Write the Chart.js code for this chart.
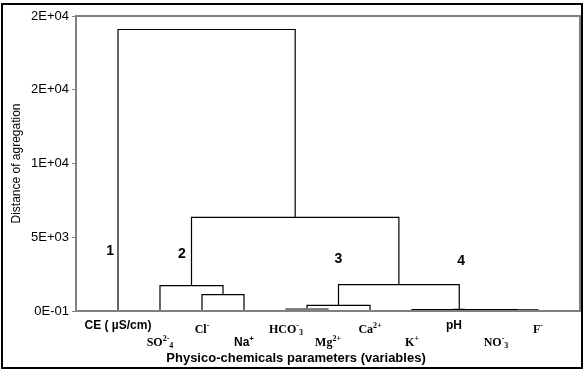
<!DOCTYPE html>
<html><head><meta charset="utf-8">
<script src="https://cdn.jsdelivr.net/npm/chart.js@4/dist/chart.umd.min.js"></script>
<style>html,body{margin:0;padding:0;background:#fff}#wrap{width:584px;height:370px}</style>
</head><body><div id="wrap"><canvas id="c" width="584" height="370"></canvas></div>
<script>
// ---- data ----
const leafNames = ['CE ( µS/cm)', 'SO', 'Cl', 'Na', 'HCO', 'Mg', 'Ca', 'K', 'pH', 'NO', 'F'];
const leafSup   = ['', '2-', '-', '+', '-', '2+', '2+', '+', '', '-', '-'];
const leafSub   = ['', '4', '', '', '3', '', '', '', '', '3', ''];
// merges: [childA, childB, distance]; ids 0..10 are leaves, 11+ are merges in order
const merges = [
  [4, 5, 150],
  [9, 10, 70],
  [7, 12, 95],
  [8, 13, 120],
  [11, 6, 386],
  [2, 3, 1105],
  [1, 16, 1715],
  [15, 14, 1783],
  [17, 18, 6353],
  [0, 19, 19085]
];
const yTickValues = [0, 5000, 10000, 15000, 20000];
const yTickLabels = ['0E-01', '5E+03', '1E+04', '2E+04', '2E+04'];
const clusterNames = ['1', '2', '3', '4'];
const clusterX = [0.81, 2.52, 6.25, 9.17];
const clusterY = [4030, 3830, 3520, 3350];
const yTitle = 'Distance of agregation';
const xTitle = 'Physico-chemicals parameters (variables)';

// ---- styles ----
const labelRow   = [0, 1, 0, 1, 0, 1, 0, 1, 0, 1, 0];
const labelSerif = [false, true, true, false, true, true, true, true, false, true, true];
const SANS = '"Liberation Sans", Arial, sans-serif';
const SERIF = '"Liberation Serif", "Times New Roman", serif';

// ---- build dendrogram line datasets ----
const nodeX = leafNames.map((_, i) => i + 1);
const nodeH = leafNames.map(() => 0);
const datasets = [];
merges.forEach(([a, b, h], k) => {
  const grey = (k === 0);
  datasets.push({
    data: [{x: nodeX[a], y: nodeH[a]}, {x: nodeX[a], y: h}, {x: nodeX[b], y: h}, {x: nodeX[b], y: nodeH[b]}],
    showLine: true, pointRadius: 0, borderWidth: 1.2, tension: 0,
    borderColor: grey ? '#6a6a6a' : '#000',
    backgroundColor: grey ? '#8a8a8a' : 'transparent',
    fill: grey ? 'origin' : false
  });
  nodeX.push((nodeX[a] + nodeX[b]) / 2);
  nodeH.push(h);
});

const decor = {
  id: 'decor',
  beforeDraw(chart) {
    const ctx = chart.ctx;
    ctx.save(); ctx.fillStyle = '#fff'; ctx.fillRect(0, 0, chart.width, chart.height); ctx.restore();
  },
  afterDraw(chart) {
    const ctx = chart.ctx, ca = chart.chartArea;
    const xs = chart.scales.x, ys = chart.scales.y;
    ctx.save();
    // plot frame
    ctx.strokeStyle = '#808080'; ctx.lineWidth = 2;
    ctx.strokeRect(ca.left, ca.top, ca.right - ca.left, ca.bottom - ca.top);
    // outer frame
    ctx.strokeStyle = '#000'; ctx.lineWidth = 2;
    ctx.strokeRect(2, 4, 580, 364);
    // leaf labels
    ctx.fillStyle = '#000'; ctx.textBaseline = 'alphabetic'; ctx.textAlign = 'left';
    leafNames.forEach((name, i) => {
      const serif = labelSerif[i];
      const fMain = serif ? 'bold 12px ' + SERIF : 'bold 12px ' + SANS;
      const fSmall = serif ? 'bold 8px ' + SERIF : 'bold 8px ' + SANS;
      const segs = [[name, fMain, 0]];
      if (leafSup[i]) segs.push([leafSup[i], fSmall, -5]);
      if (leafSub[i]) segs.push([leafSub[i], fSmall, 2]);
      let w = 0;
      segs.forEach(s => { ctx.font = s[1]; w += ctx.measureText(s[0]).width; });
      let x = xs.getPixelForValue(i + 1) - w / 2;
      let base = ca.bottom + (labelRow[i] === 0 ? (serif ? 21.5 : 18) : 34.5);
      segs.forEach(s => { ctx.font = s[1]; ctx.fillText(s[0], x, base + s[2]); x += ctx.measureText(s[0]).width; });
    });
    // x title
    ctx.font = 'bold 13px ' + SANS; ctx.textAlign = 'center';
    ctx.fillText(xTitle, 296, 362);
    // cluster numbers
    ctx.font = 'bold 14px ' + SANS; ctx.textBaseline = 'middle';
    clusterNames.forEach((t, i) => ctx.fillText(t, xs.getPixelForValue(clusterX[i]), ys.getPixelForValue(clusterY[i])));
    ctx.restore();
  }
};

new Chart(document.getElementById('c'), {
  type: 'scatter',
  data: {datasets},
  options: {
    responsive: false, animation: false, devicePixelRatio: 1,
    layout: {padding: {left: 0, top: 16, right: 4, bottom: 59}},
    plugins: {legend: {display: false}, tooltip: {enabled: false}},
    scales: {
      x: {
        type: 'linear', min: 0, max: 12,
        ticks: {display: false}, grid: {display: false}, border: {display: false},
        afterFit: s => { s.height = 0; }
      },
      y: {
        type: 'linear', min: 0, max: 20000,
        afterBuildTicks: s => { s.ticks = yTickValues.map(v => ({value: v})); },
        ticks: {
          callback: (v, i) => yTickLabels[i],
          font: {family: SANS, size: 13}, color: '#000', padding: 3
        },
        grid: {drawOnChartArea: false, drawTicks: true, tickLength: 4, color: '#808080', lineWidth: 1},
        border: {display: false},
        title: {display: true, text: yTitle, font: {family: SANS, size: 12}, color: '#000', padding: {top: 9, bottom: 0}},
        afterFit: s => { s.width = 76; }
      }
    }
  },
  plugins: [decor]
});
</script></body></html>
